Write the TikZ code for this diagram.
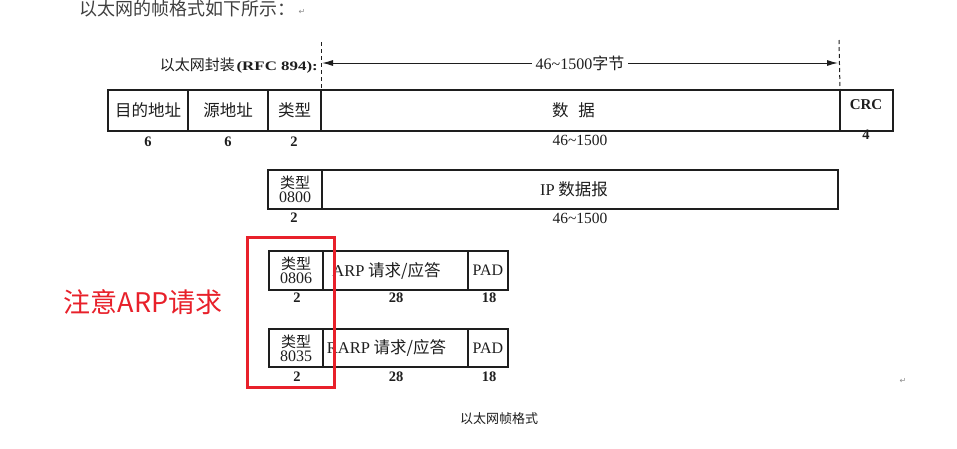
\documentclass[tikz,border=0pt]{standalone}
\usepackage{graphicx}
\usepackage{fontspec}
\setmainfont{Liberation Serif}
\newfontfamily\cjk{Noto Sans CJK SC}
\newfontfamily\dejavu{DejaVu Sans}
\usetikzlibrary{arrows.meta}
\definecolor{ink}{HTML}{1E1E1E}
\definecolor{hired}{HTML}{E8202A}
\begin{document}
\begin{tikzpicture}[x=1pt,y=-1pt,
  ln/.style={draw=ink, line width=1.2pt, outer sep=0pt},
  cell/.style={ln, anchor=north west, inner sep=0pt, text=ink, font=\cjk\fontsize{16.5}{18}\selectfont},
  typ/.style={ln, anchor=north west, inner sep=0pt, text=ink, align=center, font=\fontsize{16}{14}\selectfont},
  num/.style={inner sep=0pt, text=ink, font=\bfseries\fontsize{14.5}{15}\selectfont},
  rng/.style={inner sep=0pt, text=ink, font=\fontsize{15.5}{16}\selectfont},
  dsh/.style={draw=ink, line width=1pt, dash pattern=on 4pt off 3pt},
  arr/.style={draw=ink, line width=1pt, {Latex[length=11pt,width=6pt]}-{Latex[length=11pt,width=6pt]}},
  retmark/.style={inner sep=0pt, text=black!45, font=\dejavu\fontsize{8}{8}\selectfont},
]
\useasboundingbox (0,0) rectangle (957,448);
\fill[white] (0,0) rectangle (957,448);

% title
\node[anchor=base west, inner sep=0pt, text=black!75, font=\cjk\fontsize{18}{20}\selectfont] (title) at (79,15) {以太网的帧格式如下所示：};
\node[retmark] (ret1) at (302,12) {↵};

% encapsulation label and range arrow
\node[anchor=east, inner sep=0pt, text=ink] (enc) at (318,66) {{\cjk\fontsize{15}{16}\selectfont 以太网封装}\,\scalebox{1.3}[1]{\bfseries\fontsize{13}{14}\selectfont (RFC 894):}};
\coordinate (al) at (322,63);
\coordinate (ar) at (838,63);
\draw[arr] (al) -- node[fill=white, inner sep=4pt, text=ink, font=\fontsize{16}{17}\selectfont] (alab) {46\textasciitilde1500{\cjk 字节}} (ar);

% Ethernet frame
\node[cell, minimum width=80pt, minimum height=41pt] (dst) at (108,90) {目的地址};
\node[cell, minimum width=80pt, minimum height=41pt] (src) at (dst.north east) {源地址};
\node[cell, minimum width=53pt, minimum height=41pt] (etype) at (src.north east) {类型};
\node[cell, minimum width=519pt, minimum height=41pt] (data) at (etype.north east) {数\hspace{0.6em}据\hspace*{14pt}};
\node[cell, minimum width=53pt, minimum height=41pt] (crc) at (data.north east) {};
\node[inner sep=0pt, text=ink, font=\bfseries\fontsize{15}{16}\selectfont] (crct) at (866,105) {CRC};

\coordinate (d1) at (321,42);
\coordinate (d2) at (839,40);
\draw[dsh] (d1) -- (etype.north east);
\draw[dsh] (d2) -- (data.north east);

\node[num] (n1) at (148,142) {6};
\node[num] (n2) at (228,142) {6};
\node[num] (n3) at (294,142) {2};
\node[rng] (n4) at (580,140) {46\textasciitilde1500};
\node[num] (n5) at (866,135) {4};

% IP row
\node[typ, minimum width=54pt, minimum height=39pt] (iptype) at (268,170) {{\cjk\fontsize{15}{14}\selectfont 类型}\\0800};
\node[cell, minimum width=516pt, minimum height=39pt] (ipdata) at (iptype.north east) {{\rmfamily IP} 数据报\hspace*{12pt}};
\node[num] (ipn1) at (294,218) {2};
\node[rng] (ipn2) at (580,218) {46\textasciitilde1500};

% ARP row
\node[typ, minimum width=54pt, minimum height=39pt] (arptype) at (269,251) {{\cjk\fontsize{15}{14}\selectfont 类型}\\0806};
\node[cell, minimum width=145pt, minimum height=39pt] (arpdata) at (arptype.north east) {{\rmfamily ARP} 请求/应答\hspace*{18pt}};
\node[cell, minimum width=40pt, minimum height=39pt, font=\fontsize{16}{17}\selectfont] (arppad) at (arpdata.north east) {PAD};
\node[num] (arpn1) at (297,298) {2};
\node[num] (arpn2) at (396,298) {28};
\node[num] (arpn3) at (489,298) {18};

% RARP row
\node[typ, minimum width=54pt, minimum height=38pt] (rarptype) at (269,329) {{\cjk\fontsize{15}{14}\selectfont 类型}\\8035};
\node[cell, minimum width=145pt, minimum height=38pt] (rarpdata) at (rarptype.north east) {{\rmfamily RARP} 请求/应答\hspace*{18pt}};
\node[cell, minimum width=40pt, minimum height=38pt, font=\fontsize{16}{17}\selectfont] (rarppad) at (rarpdata.north east) {PAD};
\node[num] (rarpn1) at (297,377) {2};
\node[num] (rarpn2) at (396,377) {28};
\node[num] (rarpn3) at (489,377) {18};

% highlight
\draw[hired, line width=3pt] (247,237) rectangle (334,387);
\node[inner sep=0pt, text=hired, font=\cjk\fontsize{27}{29}\selectfont] (note) at (143,302) {注意ARP请求};

% caption
\node[inner sep=0pt, text=ink, font=\cjk\fontsize{13}{14}\selectfont] (cap) at (499,419) {以太网帧格式};
\node[retmark] (ret2) at (903,381) {↵};
\end{tikzpicture}
\end{document}
